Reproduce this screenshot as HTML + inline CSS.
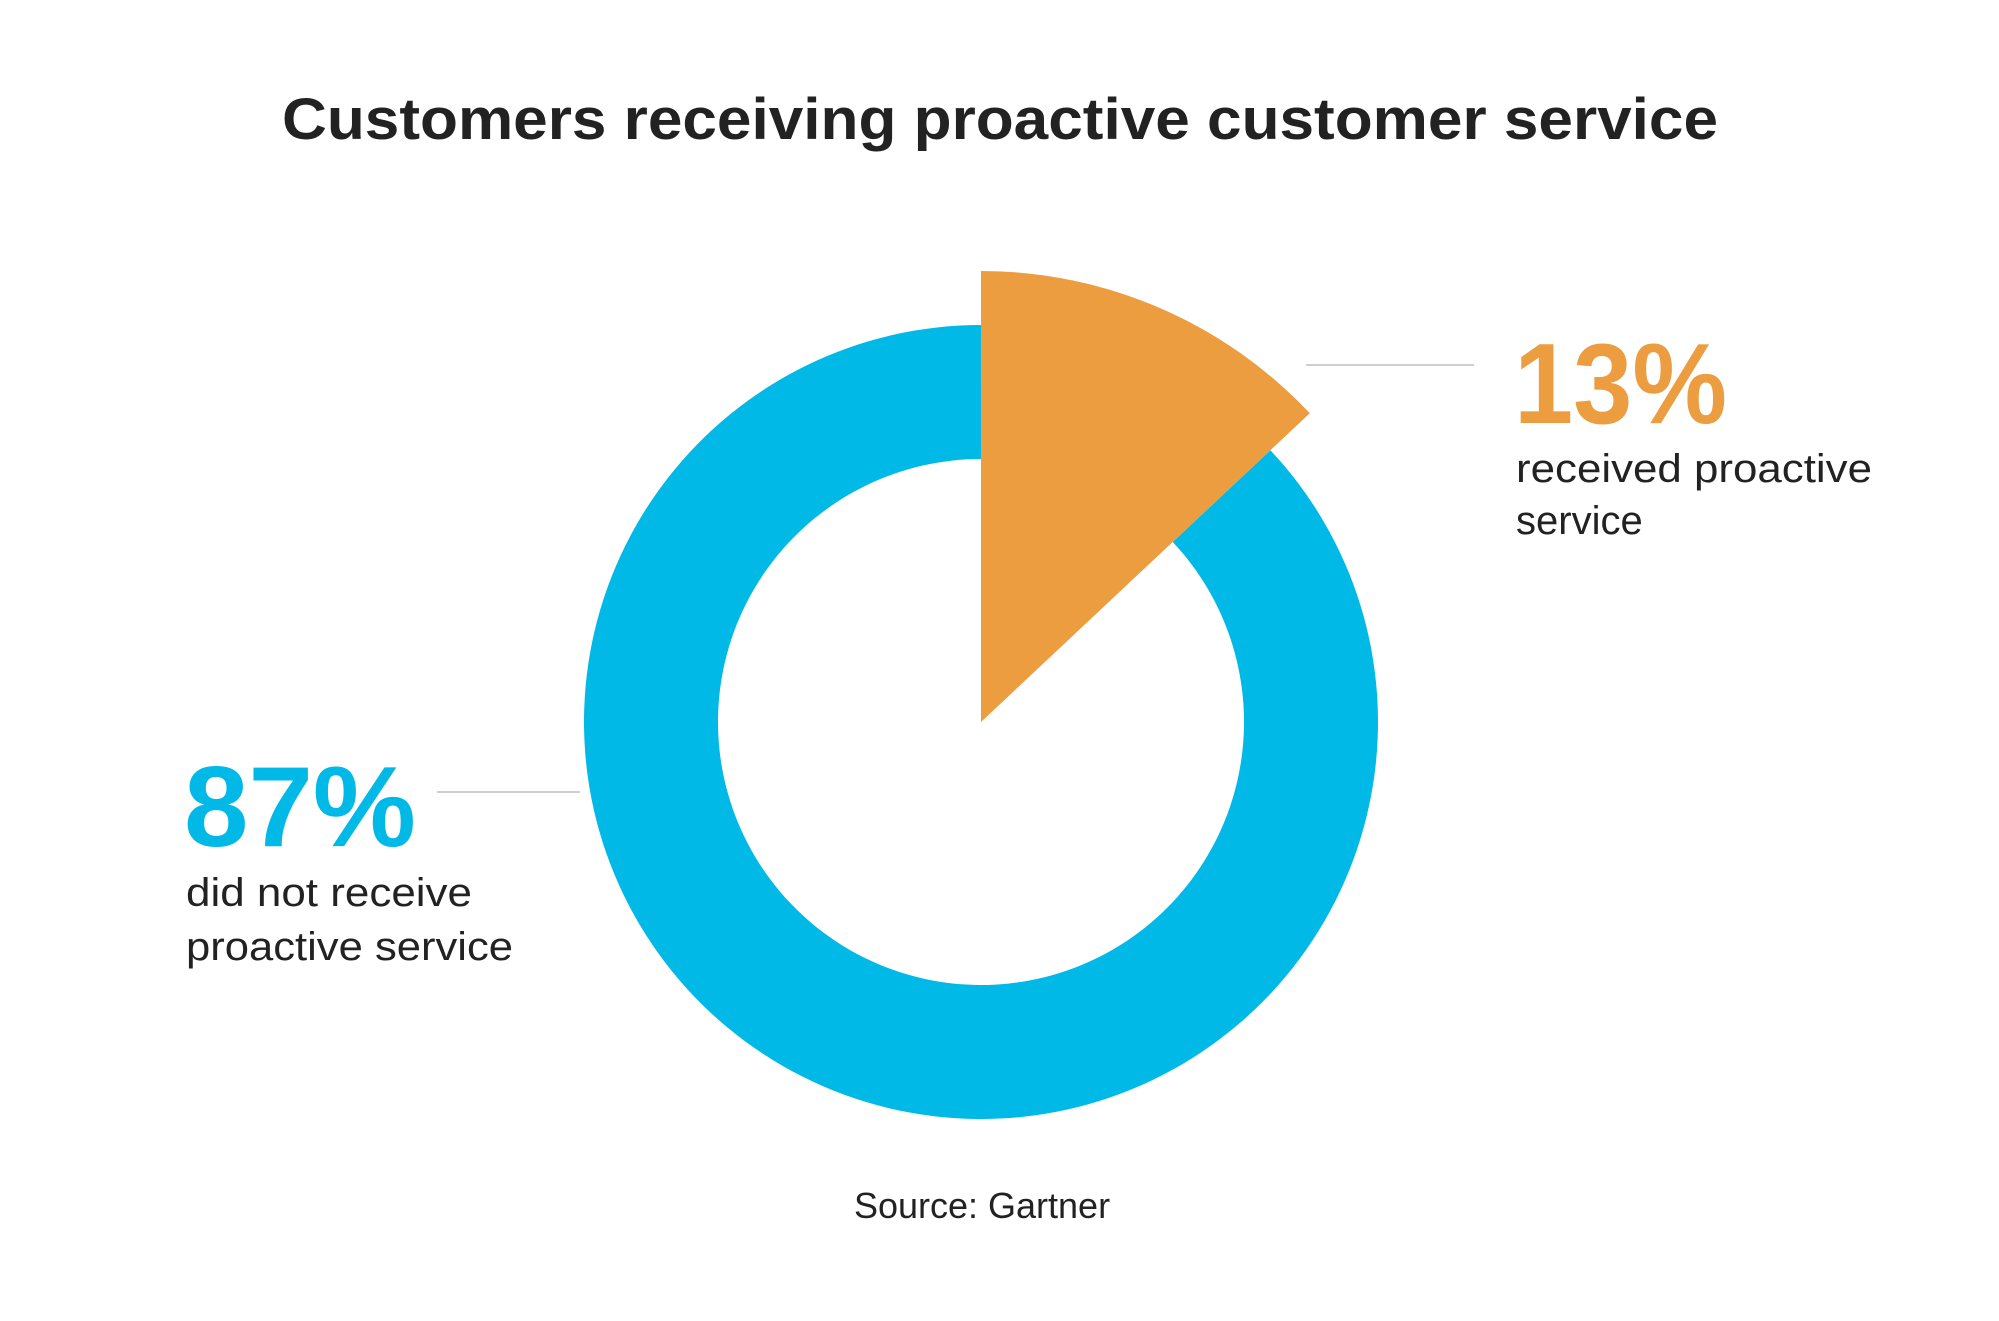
<!DOCTYPE html>
<html><head><meta charset="utf-8"><style>
html,body{margin:0;padding:0;background:#fff;}
svg{display:block;font-family:"Liberation Sans",sans-serif;}
</style></head><body>
<svg id="chart" width="1999" height="1321" viewBox="0 0 1999 1321">
<text x="1000" y="139" text-anchor="middle" font-size="58" font-weight="bold" fill="#222" textLength="1436" lengthAdjust="spacingAndGlyphs">Customers receiving proactive customer service</text>
<g id="marks"></g>
<line x1="1306" y1="365" x2="1474" y2="365" stroke="#cfcfcf" stroke-width="2"/>
<line x1="437" y1="792" x2="580" y2="792" stroke="#cfcfcf" stroke-width="2"/>
<text id="v0" x="184" y="846" font-size="114" font-weight="bold" fill="#00b9e7" textLength="232" lengthAdjust="spacingAndGlyphs"></text>
<text x="186" y="906" font-size="40" fill="#222" textLength="286" lengthAdjust="spacingAndGlyphs">did not receive</text>
<text x="186" y="960" font-size="40" fill="#222" textLength="327" lengthAdjust="spacingAndGlyphs">proactive service</text>
<text id="v1" x="1514" y="423" font-size="114" font-weight="bold" fill="#eb9d40" textLength="213" lengthAdjust="spacingAndGlyphs"></text>
<text x="1516" y="482" font-size="40" fill="#222" textLength="356" lengthAdjust="spacingAndGlyphs">received proactive</text>
<text x="1516" y="534" font-size="40" fill="#222">service</text>
<text x="982" y="1218" text-anchor="middle" font-size="36" fill="#222">Source: Gartner</text>
</svg>
<script>
const categories = ["did not receive proactive service", "received proactive service"];
const values = [87, 13];
const valueLabels = ["87%", "13%"];

const cx = 981, cy = 722, rOut = 397, rIn = 263, rWedge = 451;
const NS = "http://www.w3.org/2000/svg";
const g = document.getElementById("marks");
const total = values.reduce((a, b) => a + b, 0);
function angleOf(v) { return v / total * 2 * Math.PI; }
function pt(a, r) { return [cx + r * Math.sin(a), cy - r * Math.cos(a)]; }

const a1 = angleOf(values[1]);
(function(){
  const s = a1, e = 2 * Math.PI;
  const large = (e - s) > Math.PI ? 1 : 0;
  const p1 = pt(s, rOut), p2 = pt(e - 0.0001, rOut), p3 = pt(e - 0.0001, rIn), p4 = pt(s, rIn);
  const path = document.createElementNS(NS, "path");
  path.setAttribute("d", `M${p1[0]},${p1[1]} A${rOut},${rOut} 0 ${large} 1 ${p2[0]},${p2[1]} L${p3[0]},${p3[1]} A${rIn},${rIn} 0 ${large} 0 ${p4[0]},${p4[1]} Z`);
  path.setAttribute("fill", "#00b9e7");
  
  
  g.appendChild(path);
})();
(function(){
  const large = a1 > Math.PI ? 1 : 0;
  const p1 = pt(0, rWedge), p2 = pt(a1, rWedge);
  const path = document.createElementNS(NS, "path");
  path.setAttribute("d", `M${cx},${cy} L${p1[0]},${p1[1]} A${rWedge},${rWedge} 0 ${large} 1 ${p2[0]},${p2[1]} Z`);
  path.setAttribute("fill", "#eb9d40");
  
  
  g.appendChild(path);
})();
document.getElementById("v0").textContent = valueLabels[0];
document.getElementById("v1").textContent = valueLabels[1];
</script>
</body></html>
